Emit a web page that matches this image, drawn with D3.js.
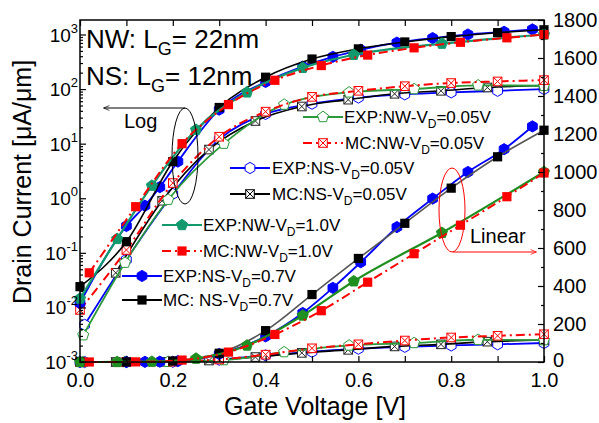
<!DOCTYPE html>
<html>
<head>
<meta charset="utf-8">
<script src="https://cdn.jsdelivr.net/npm/d3@7"></script>
<style>
  html, body { margin: 0; padding: 0; background: #fff; }
  svg { display: block; }
  text { font-family: "Liberation Sans", Arial, sans-serif; fill: #000; }
</style>
</head>
<body>
<svg id="chart" width="599" height="423"></svg>
<script>
// Gate voltage (V) and drain current (uA/um) for each device / bias
const vgExpNW10 = [0, 0.08, 0.155, 0.25, 0.36, 0.48, 0.59, 0.78, 1.0];
const idExpNW10 = [0.0145, 0.18, 1.7, 18, 87, 245, 425, 680, 1000];

const vgMcNW10 = [0.02, 0.12, 0.22, 0.32, 0.42, 0.52, 0.62, 0.72, 0.82, 0.92, 1.0];
const idMcNW10 = [0.043, 0.70, 10, 52, 145, 270, 420, 570, 720, 870, 995];

const vgExpNS07 = [0, 0.10, 0.14, 0.172, 0.211, 0.30, 0.40, 0.48, 0.545, 0.605, 0.683, 0.76, 0.836, 0.914, 0.975];
const idExpNS07 = [0.012, 0.31, 0.73, 1.6, 4.7, 42, 135, 258, 390, 525, 710, 860, 1000, 1120, 1240];

const vgMcNS07 = [0, 0.1, 0.2, 0.3, 0.4, 0.5, 0.6, 0.7, 0.8, 0.9, 1.0];
const idMcNS07 = [0.024, 0.16, 4.7, 46, 165, 355, 545, 730, 915, 1080, 1220];

const vgExpNW005 = [0.007, 0.097, 0.19, 0.31, 0.44, 0.58, 0.72, 0.858, 1.0];
const idExpNW005 = [0.0031, 0.066, 0.94, 10, 52, 87, 100, 117, 115];

const vgMcNW005 = [0, 0.1, 0.2, 0.3, 0.4, 0.5, 0.6, 0.7, 0.8, 0.9, 1.0];
const idMcNW005 = [0.009, 0.113, 1.9, 13.4, 38.6, 72, 93, 113, 129, 138, 146];

const vgExpNS005 = [0.01, 0.1, 0.2, 0.3, 0.4, 0.5, 0.6, 0.7, 0.8, 0.9, 1.0];
const idExpNS005 = [0.0048, 0.075, 1.2, 12, 35, 54, 70, 80, 87, 93, 100];

const vgMcNS005 = [0.077, 0.177, 0.278, 0.378, 0.478, 0.578, 0.678, 0.778, 0.878, 1.0];
const idMcNS005 = [0.043, 0.90, 7.8, 26, 48, 64, 82, 93, 107, 116];

// Axis ticks
const xTicks = [0, 0.1, 0.2, 0.3, 0.4, 0.5, 0.6, 0.7, 0.8, 0.9, 1.0];
const xLabels = [0, 0.2, 0.4, 0.6, 0.8, 1.0];
const logExponents = [-3, -2, -1, 0, 1, 2, 3];
const linTicks = [0, 200, 400, 600, 800, 1000, 1200, 1400, 1600, 1800];

const svg = d3.select("#chart");
const L = 80, R = 544, T = 20, B = 362;

const x = d3.scaleLinear().domain([0, 1]).range([L, R]);
const yLog = d3.scaleLog().domain([1e-3, 1e3]).range([B, 34.5]);
const yLin = d3.scaleLinear().domain([0, 1800]).range([B, T]);

const RED = "#ff0000", BLUE = "#0000ff", BLACK = "#000000";
const GREEN = "#2a9a3a", TEAL = "#129a6e", LGREEN = "#1f8f1f", GRAY = "#555555";
const DASHDOT = "9,4,2,4";

// marker shapes
function polyPath(n, r, rot) {
  const pts = d3.range(n).map(k => {
    const a = rot + k * 2 * Math.PI / n;
    return [r * Math.cos(a), r * Math.sin(a)];
  });
  return "M" + pts.map(p => p[0].toFixed(2) + "," + p[1].toFixed(2)).join("L") + "Z";
}
function drawMarker(g, type, color, cx, cy) {
  const m = g.append("g").attr("transform", `translate(${cx},${cy})`);
  if (type === "pent" || type === "pentOpen") {
    m.append("path").attr("d", polyPath(5, 5.8, -Math.PI / 2))
      .attr("fill", type === "pent" ? color : "#fff")
      .attr("stroke", color).attr("stroke-width", 1);
  } else if (type === "hex" || type === "hexOpen") {
    m.append("path").attr("d", polyPath(6, 5.6, -Math.PI / 2))
      .attr("fill", type === "hex" ? color : "#fff")
      .attr("stroke", color).attr("stroke-width", 1);
  } else if (type === "sq") {
    m.append("rect").attr("x", -4.6).attr("y", -4.6).attr("width", 9.2).attr("height", 9.2)
      .attr("fill", color);
  } else if (type === "boxX") {
    m.append("rect").attr("x", -4.3).attr("y", -4.3).attr("width", 8.6).attr("height", 8.6)
      .attr("fill", "#fff").attr("stroke", color).attr("stroke-width", 1);
    m.append("path").attr("d", "M-4.3,-4.3L4.3,4.3M-4.3,4.3L4.3,-4.3")
      .attr("stroke", color).attr("stroke-width", 1);
  }
}

const lowSeries = [
  { vg: vgExpNS005, id: idExpNS005, logColor: BLUE, linColor: BLUE, markColor: BLUE, marker: "hexOpen", dash: null, w: 1.8 },
  { vg: vgMcNS005, id: idMcNS005, logColor: BLACK, linColor: BLACK, markColor: "#222", marker: "boxX", dash: null, w: 1.6 },
  { vg: vgExpNW005, id: idExpNW005, logColor: GREEN, linColor: GREEN, markColor: GREEN, marker: "pentOpen", dash: null, w: 1.8 },
  { vg: vgMcNW005, id: idMcNW005, logColor: RED, linColor: RED, markColor: RED, marker: "boxX", dash: DASHDOT, w: 2 }
];
const highSeries = [
  { vg: vgExpNS07, id: idExpNS07, logColor: BLUE, linColor: BLUE, markColor: BLUE, marker: "hex", dash: null, w: 1.8 },
  { vg: vgMcNS07, id: idMcNS07, logColor: BLACK, linColor: GRAY, markColor: BLACK, marker: "sq", dash: null, w: 1.6 },
  { vg: vgExpNW10, id: idExpNW10, logColor: TEAL, linColor: LGREEN, markColor: null, marker: "pent", dash: null, w: 2.2 },
  { vg: vgMcNW10, id: idMcNW10, logColor: RED, linColor: RED, markColor: RED, marker: "sq", dash: DASHDOT, w: 2 }
];

const plot = svg.append("g");
function drawSeries(s, yScale, lineColor, markColor) {
  const pts = s.vg.map((v, i) => [x(v), yScale(Math.max(s.id[i], yScale === yLog ? 1e-3 : 0))]);
  const line = d3.line().curve(d3.curveMonotoneX);
  plot.append("path").attr("d", line(pts))
    .attr("fill", "none").attr("stroke", lineColor).attr("stroke-width", s.w)
    .attr("stroke-dasharray", s.dash);
  const g = plot.append("g");
  pts.forEach(p => drawMarker(g, s.marker, markColor, p[0], p[1]));
}
// linear-scale curves (right axis)
lowSeries.concat(highSeries).forEach(s => drawSeries(s, yLin, s.linColor, s.markColor || s.linColor));
// log-scale curves (left axis)
lowSeries.concat(highSeries).forEach(s => drawSeries(s, yLog, s.logColor, s.markColor || s.logColor));

// frame
svg.append("rect").attr("x", L).attr("y", T).attr("width", R - L).attr("height", B - T)
  .attr("fill", "none").attr("stroke", "#000").attr("stroke-width", 1.5);

// bottom axis
const axB = svg.append("g").attr("transform", `translate(0,${B})`)
  .call(d3.axisBottom(x).tickValues(xTicks).tickSize(-6).tickPadding(11)
    .tickFormat(d => xLabels.some(l => Math.abs(l - d) < 1e-9) ? d.toFixed(1) : ""));
// top axis
const axT = svg.append("g").attr("transform", `translate(0,${T})`)
  .call(d3.axisTop(x).tickValues(xTicks).tickSize(-6).tickFormat(""));
// right axis (linear)
const axR = svg.append("g").attr("transform", `translate(${R},0)`)
  .call(d3.axisRight(yLin).tickValues(linTicks).tickSize(-6).tickPadding(9).tickFormat(d3.format("d")));
const axRm = svg.append("g").attr("transform", `translate(${R},0)`)
  .call(d3.axisRight(yLin).tickValues(linTicks.slice(0, -1).map(d => d + 100)).tickSize(-3).tickFormat(""));
// left axis (log)
const majors = logExponents.map(e => Math.pow(10, e));
const minors = [];
logExponents.forEach(e => { for (let k = 2; k <= 9; k++) { const v = k * Math.pow(10, e); if (v <= yLog.invert(T)) minors.push(v); } });
const axL = svg.append("g").attr("transform", `translate(${L},0)`)
  .call(d3.axisLeft(yLog).tickValues(majors).tickSize(-6).tickFormat(""));
const axLm = svg.append("g").attr("transform", `translate(${L},0)`)
  .call(d3.axisLeft(yLog).tickValues(minors).tickSize(-3).tickFormat(""));

[axB, axT, axR, axRm, axL, axLm].forEach(a => {
  a.select(".domain").remove();
  a.selectAll("line").attr("stroke", "#000").attr("stroke-width", 1.2);
  a.selectAll("text").style("font-size", "20px").style("font-family", "\"Liberation Sans\", Arial, sans-serif").attr("fill", "#000");
});
// lift the zero label of the right axis a little clear of the x labels
axR.selectAll(".tick").filter(d => d === 0).select("text").attr("dy", "0.22em");

// left decade labels with superscripts
logExponents.forEach(e => {
  const t = svg.append("text").attr("x", 78).attr("y", yLog(Math.pow(10, e)) + 7)
    .attr("text-anchor", "end").style("font-size", "19px");
  t.append("tspan").text("10");
  t.append("tspan").attr("dy", -9).style("font-size", "13px").text(String(e));
});

// axis titles
svg.append("text").attr("transform", "translate(31,182) rotate(-90)")
  .attr("text-anchor", "middle").style("font-size", "25px")
  .text("Drain Current [\u03bcA/\u03bcm]");
svg.append("text").attr("x", 315).attr("y", 415).attr("text-anchor", "middle")
  .style("font-size", "25px").text("Gate Voltage [V]");

// device annotations
function subText(xp, yp, a, sub, b, size, subSize) {
  const t = svg.append("text").attr("x", xp).attr("y", yp).style("font-size", size + "px");
  t.append("tspan").text(a);
  t.append("tspan").attr("dy", size * 0.28).style("font-size", subSize + "px").text(sub);
  t.append("tspan").attr("dy", -size * 0.28).text(b);
  return t;
}
subText(86, 48, "NW: L", "G", "= 22nm", 26, 18);
subText(86, 85, "NS: L", "G", "= 12nm", 26, 18);

// Log marker: ellipse + arrow pointing to left axis
const defs = svg.append("defs");
function arrowHead(id, color) {
  defs.append("marker").attr("id", id).attr("viewBox", "0 0 10 10").attr("refX", 9).attr("refY", 5)
    .attr("markerWidth", 8).attr("markerHeight", 6).attr("orient", "auto")
    .append("path").attr("d", "M0,1L10,5L0,9").attr("fill", "none").attr("stroke", color).attr("stroke-width", 1.2);
}
arrowHead("arrBlack", "#000");
arrowHead("arrRed", RED);
svg.append("ellipse").attr("cx", 185).attr("cy", 156).attr("rx", 13).attr("ry", 48)
  .attr("fill", "none").attr("stroke", "#000").attr("stroke-width", 1);
svg.append("line").attr("x1", 185).attr("y1", 108).attr("x2", 104).attr("y2", 108)
  .attr("stroke", "#000").attr("stroke-width", 1).attr("marker-end", "url(#arrBlack)");
svg.append("text").attr("x", 124).attr("y", 128).style("font-size", "20px").text("Log");

// Linear marker: ellipse + arrow pointing to right axis
svg.append("ellipse").attr("cx", 452).attr("cy", 210).attr("rx", 13).attr("ry", 42)
  .attr("fill", "none").attr("stroke", RED).attr("stroke-width", 1);
svg.append("line").attr("x1", 453).attr("y1", 252).attr("x2", 536).attr("y2", 252)
  .attr("stroke", RED).attr("stroke-width", 1).attr("marker-end", "url(#arrRed)");
svg.append("text").attr("x", 470).attr("y", 243).style("font-size", "20px").text("Linear");

// legend
const legendItems = [
  { y: 117, x0: 303, x1: 343, tx: 344, color: GREEN, marker: "pentOpen", dash: null, pre: "EXP:NW-V", post: "=0.05V" },
  { y: 143, x0: 303, x1: 343, tx: 345, color: RED, marker: "boxX", dash: DASHDOT, pre: "MC:NW-V", post: "=0.05V" },
  { y: 168, x0: 230, x1: 270, tx: 272, color: BLUE, marker: "hexOpen", dash: null, pre: "EXP:NS-V", post: "=0.05V" },
  { y: 194, x0: 230, x1: 270, tx: 272, color: BLACK, marker: "boxX", dash: null, pre: "MC:NS-V", post: "=0.05V" },
  { y: 225, x0: 162, x1: 202, tx: 203, color: TEAL, marker: "pent", dash: null, pre: "EXP:NW-V", post: "=1.0V" },
  { y: 251, x0: 162, x1: 202, tx: 203, color: RED, marker: "sq", dash: DASHDOT, pre: "MC:NW-V", post: "=1.0V" },
  { y: 276, x0: 122, x1: 162, tx: 163, color: BLUE, marker: "hex", dash: null, pre: "EXP:NS-V", post: "=0.7V" },
  { y: 300, x0: 122, x1: 162, tx: 163, color: BLACK, marker: "sq", dash: null, pre: "MC: NS-V", post: "=0.7V" }
];
const leg = svg.append("g");
legendItems.forEach(it => {
  leg.append("line").attr("x1", it.x0).attr("x2", it.x1).attr("y1", it.y).attr("y2", it.y)
    .attr("stroke", it.color).attr("stroke-width", 1.8).attr("stroke-dasharray", it.dash);
  drawMarker(leg, it.marker, it.color, (it.x0 + it.x1) / 2, it.y);
  const t = leg.append("text").attr("x", it.tx).attr("y", it.y + 6).style("font-size", "17px");
  t.append("tspan").text(it.pre);
  t.append("tspan").attr("dy", 5).style("font-size", "12px").text("D");
  t.append("tspan").attr("dy", -5).text(it.post);
});
</script>
</body>
</html>
